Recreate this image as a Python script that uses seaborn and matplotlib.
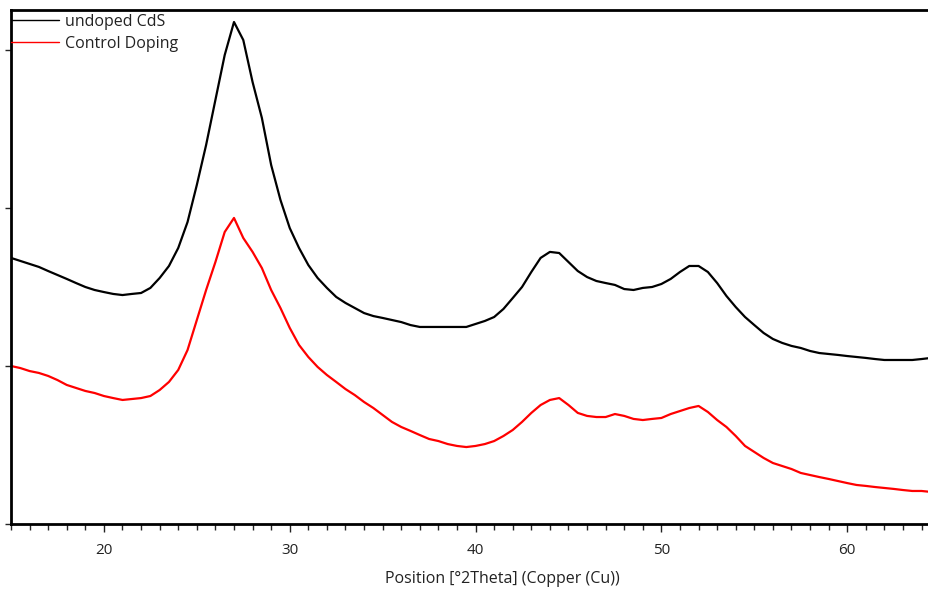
import numpy as np
import pandas as pd
import matplotlib
matplotlib.use("Agg")
import matplotlib.pyplot as plt
import seaborn as sns
from matplotlib.ticker import MultipleLocator

# sampling positions (°2Theta) every 0.5°
two_theta = [
    15.0, 15.5, 16.0, 16.5, 17.0, 17.5, 18.0, 18.5, 19.0, 19.5,
    20.0, 20.5, 21.0, 21.5, 22.0, 22.5, 23.0, 23.5, 24.0, 24.5,
    25.0, 25.5, 26.0, 26.5, 27.0, 27.5, 28.0, 28.5, 29.0, 29.5,
    30.0, 30.5, 31.0, 31.5, 32.0, 32.5, 33.0, 33.5, 34.0, 34.5,
    35.0, 35.5, 36.0, 36.5, 37.0, 37.5, 38.0, 38.5, 39.0, 39.5,
    40.0, 40.5, 41.0, 41.5, 42.0, 42.5, 43.0, 43.5, 44.0, 44.5,
    45.0, 45.5, 46.0, 46.5, 47.0, 47.5, 48.0, 48.5, 49.0, 49.5,
    50.0, 50.5, 51.0, 51.5, 52.0, 52.5, 53.0, 53.5, 54.0, 54.5,
    55.0, 55.5, 56.0, 56.5, 57.0, 57.5, 58.0, 58.5, 59.0, 59.5,
    60.0, 60.5, 61.0, 61.5, 62.0, 62.5, 63.0, 63.5, 64.0, 64.5,
]

# intensities (arbitrary counts, offset patterns as drawn)
undoped_cds = [
    1684, 1665, 1646, 1627, 1601, 1576, 1551, 1525, 1500, 1481,
    1468, 1456, 1449, 1456, 1462, 1494, 1557, 1633, 1747, 1911,
    2146, 2399, 2684, 2968, 3177, 3063, 2797, 2570, 2272, 2051,
    1873, 1747, 1639, 1557, 1494, 1437, 1399, 1367, 1335, 1316,
    1304, 1291, 1278, 1259, 1247, 1247, 1247, 1247, 1247, 1247,
    1266, 1285, 1310, 1361, 1430, 1500, 1595, 1684, 1722, 1715,
    1658, 1601, 1563, 1538, 1525, 1513, 1487, 1481, 1494, 1500,
    1519, 1551, 1595, 1633, 1633, 1595, 1525, 1443, 1373, 1310,
    1259, 1209, 1171, 1146, 1127, 1114, 1095, 1082, 1076, 1070,
    1063, 1057, 1051, 1044, 1038, 1038, 1038, 1038, 1044, 1051,
]

control_doping = [
    1000, 987, 968, 956, 937, 911, 880, 861, 842, 829,
    810, 797, 785, 791, 797, 810, 848, 899, 975, 1101,
    1291, 1481, 1658, 1848, 1937, 1810, 1722, 1620, 1481, 1367,
    1241, 1133, 1057, 994, 943, 899, 854, 816, 772, 734,
    690, 646, 614, 589, 563, 538, 525, 506, 494, 487,
    494, 506, 525, 557, 595, 646, 703, 753, 785, 797,
    753, 703, 684, 677, 677, 696, 684, 665, 658, 665,
    671, 696, 715, 734, 747, 709, 658, 614, 557, 494,
    456, 418, 386, 367, 348, 323, 310, 297, 285, 272,
    259, 247, 241, 234, 228, 222, 215, 209, 209, 203,
]

series_names = ["undoped CdS", "Control Doping"]
y_ticks = [0, 1000, 2000, 3000]

df = pd.concat([
    pd.DataFrame({"pos": two_theta, "counts": undoped_cds, "sample": series_names[0]}),
    pd.DataFrame({"pos": two_theta, "counts": control_doping, "sample": series_names[1]}),
])

sns.set_style("ticks")
plt.rcParams["font.family"] = ["Open Sans", "DejaVu Sans"]

fig = plt.figure(figsize=(9.29, 5.89), dpi=100)
ax = fig.add_axes([11 / 929, 1 - 524 / 589, 918 / 929, 514 / 589])

sns.lineplot(data=df, x="pos", y="counts", hue="sample", sort=False,
             palette={"undoped CdS": "black", "Control Doping": "red"},
             linewidth=1.6, ax=ax)

ax.set_xlim(15.0, 64.4)
ax.set_ylim(0, 3253)
ax.xaxis.set_major_locator(MultipleLocator(10))
ax.xaxis.set_minor_locator(MultipleLocator(1))
ax.set_yticks(y_ticks)
ax.set_yticklabels([])

ax.tick_params(axis="x", which="major", length=6, width=1, pad=8,
               labelsize=11, colors="#222222")
ax.tick_params(axis="x", which="minor", length=4, width=1)
ax.tick_params(axis="y", which="major", length=4, width=1)

for side in ["left", "top", "bottom"]:
    ax.spines[side].set_linewidth(2)
    ax.spines[side].set_color("black")
ax.spines["right"].set_visible(False)

ax.set_xlabel("Position [°2Theta] (Copper (Cu))", fontsize=11.5, color="#222222")
ax.xaxis.set_label_coords(491 / 918, -0.092)
ax.set_ylabel("")

handles, labels = ax.get_legend_handles_labels()
for h in handles:
    h.set_linewidth(1)
ax.legend(handles, labels, loc="upper left", bbox_to_anchor=(0, 1 - 4 / 514),
          frameon=False, borderpad=0, borderaxespad=0, handlelength=3.0,
          handletextpad=0.35, labelspacing=0.35, fontsize=11.5, labelcolor="#222222")

fig.savefig("out.png", dpi=100)
